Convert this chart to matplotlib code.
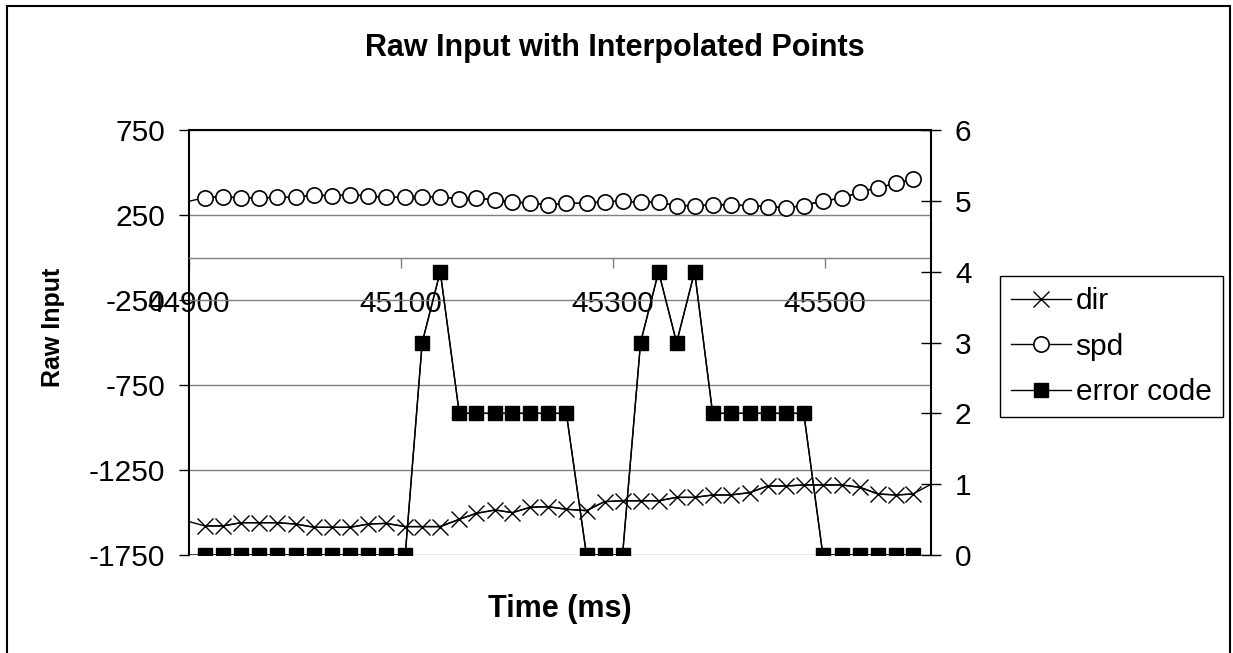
import numpy as np
import matplotlib
matplotlib.use("Agg")
import matplotlib.pyplot as plt
from matplotlib.patches import Rectangle

plt.rcParams["font.family"] = ["Liberation Sans", "DejaVu Sans"]
plt.rcParams["axes.unicode_minus"] = False

# Sample times (ms); the first and last samples fall just outside the plotted window
time_ms = [44898, 44915, 44932, 44949, 44966, 44983, 45001, 45018, 45035, 45052,
           45069, 45086, 45104, 45120, 45137, 45155, 45171, 45189, 45205, 45222,
           45239, 45256, 45275, 45292, 45309, 45326, 45343, 45360, 45377, 45394,
           45411, 45429, 45446, 45463, 45480, 45498, 45516, 45533, 45550, 45567,
           45583, 45600]

dir_raw = [-1550, -1579, -1579, -1560, -1560, -1560, -1568, -1587, -1587, -1587,
           -1568, -1564, -1583, -1583, -1583, -1540, -1505, -1485, -1501, -1469,
           -1466, -1481, -1489, -1436, -1431, -1431, -1431, -1411, -1411, -1397,
           -1397, -1383, -1344, -1344, -1338, -1338, -1338, -1352, -1391, -1397,
           -1391, -1334]

spd_raw = [328, 352, 358, 350, 350, 354, 354, 368, 362, 369,
           362, 354, 354, 354, 358, 344, 350, 338, 328, 319,
           309, 319, 319, 328, 332, 325, 325, 305, 305, 309,
           309, 305, 299, 293, 305, 334, 348, 387, 411, 436,
           462, np.nan]

error_code = [0, 0, 0, 0, 0, 0, 0, 0, 0, 0,
              0, 0, 0, 3, 4, 2, 2, 2, 2, 2,
              2, 2, 0, 0, 0, 3, 4, 3, 4, 2,
              2, 2, 2, 2, 2, 0, 0, 0, 0, 0,
              0, np.nan]

x_ticks = [44900, 45100, 45300, 45500]
left_ticks = [-1750, -1250, -750, -250, 250, 750]
right_ticks = [0, 1, 2, 3, 4, 5, 6]
x_range = (44900, 45600)

t = np.array(time_ms, dtype=float)
d = np.array(dir_raw, dtype=float)
s = np.array(spd_raw, dtype=float)
e = np.array(error_code, dtype=float)
inside = (t > x_range[0]) & (t < x_range[1])

W, H = 1233, 653
fig = plt.figure(figsize=(W / 100, H / 100), dpi=100)
fig.patch.set_facecolor("white")

ax = fig.add_axes([189 / W, 1 - 555 / H, 742 / W, 425 / H])
ax.set_xlim(*x_range)
ax.set_ylim(-1750, 750)
ax.set_yticks(left_ticks)
ax.set_yticklabels([str(v) for v in left_ticks])
ax.set_xticks(x_ticks)
ax.set_xticklabels([str(v) for v in x_ticks])
ax.yaxis.grid(True, color="#808080", lw=1.0)
ax.set_axisbelow(True)

ax.spines["bottom"].set_position(("data", 0))
ax.spines["bottom"].set_color("#808080")
ax.spines["bottom"].set_linewidth(1.0)
ax.spines["right"].set_visible(False)
ax.spines["top"].set_color("black")
ax.spines["top"].set_linewidth(1.5)
ax.spines["left"].set_linewidth(1.5)

ax.tick_params(axis="y", direction="out", length=7.2, width=1, pad=10,
               labelsize=21.5, colors="black")
ax.tick_params(axis="x", direction="out", length=7.2, width=1, pad=16,
               labelsize=21.5, color="#808080", labelcolor="black")

# Left-axis series: full line (runs to the plot edges) plus markers at visible samples
ax.plot(t, d, color="black", lw=1.0)
ax.plot(t[inside], d[inside], color="black", lw=1.0, marker="x", ms=11.5,
        mew=1.0, label="dir")
ax.plot(t, s, color="black", lw=1.0)
ax.plot(t[inside], s[inside], color="black", lw=1.0, marker="o", ms=11,
        mfc="white", mec="black", mew=1.2, label="spd")

# Right-axis series
ax2 = ax.twinx()
ax2.set_ylim(0, 6)
ax2.set_yticks(right_ticks)
for side in ("top", "bottom", "left"):
    ax2.spines[side].set_visible(False)
ax2.spines["right"].set_linewidth(1.5)
ax2.tick_params(axis="y", direction="inout", length=14.4, width=1, pad=10,
                labelsize=21.5, colors="black")
ax2.plot(t, e, color="black", lw=1.0)
ax2.plot(t[inside], e[inside], color="black", lw=1.0, marker="s", ms=10.5,
         mfc="black", mec="black", label="error code")

ax.set_title("Raw Input with Interpolated Points", fontsize=22,
             fontweight="bold", x=0.574, y=1.193, va="center", pad=0)
ax.set_xlabel("Time (ms)", fontsize=22, fontweight="bold", va="center")
ax.xaxis.set_label_coords(0.5, -0.127)
ax.set_ylabel("Raw Input", fontsize=18, fontweight="bold", va="center")
ax.yaxis.set_label_coords(-0.1833, 0.5365)

handles = ax.get_legend_handles_labels()[0] + ax2.get_legend_handles_labels()[0]
labels = [h.get_label() for h in handles]
leg = fig.legend(handles, labels, loc="upper left",
                 bbox_to_anchor=(1000 / W, 1 - 276 / H), frameon=True,
                 fancybox=False, edgecolor="black", framealpha=1,
                 fontsize=21.5, handlelength=2.0, handletextpad=0.15,
                 borderpad=0.38, labelspacing=0.58, borderaxespad=0)
leg.get_frame().set_linewidth(1.0)

# Outer chart border
fig.patches.append(Rectangle((7 / W, -0.05), (1230 - 7) / W, 1 - 6 / H + 0.05,
                             transform=fig.transFigure, fill=False,
                             lw=1.5, ec="black"))

fig.savefig("out.png", dpi=100)
